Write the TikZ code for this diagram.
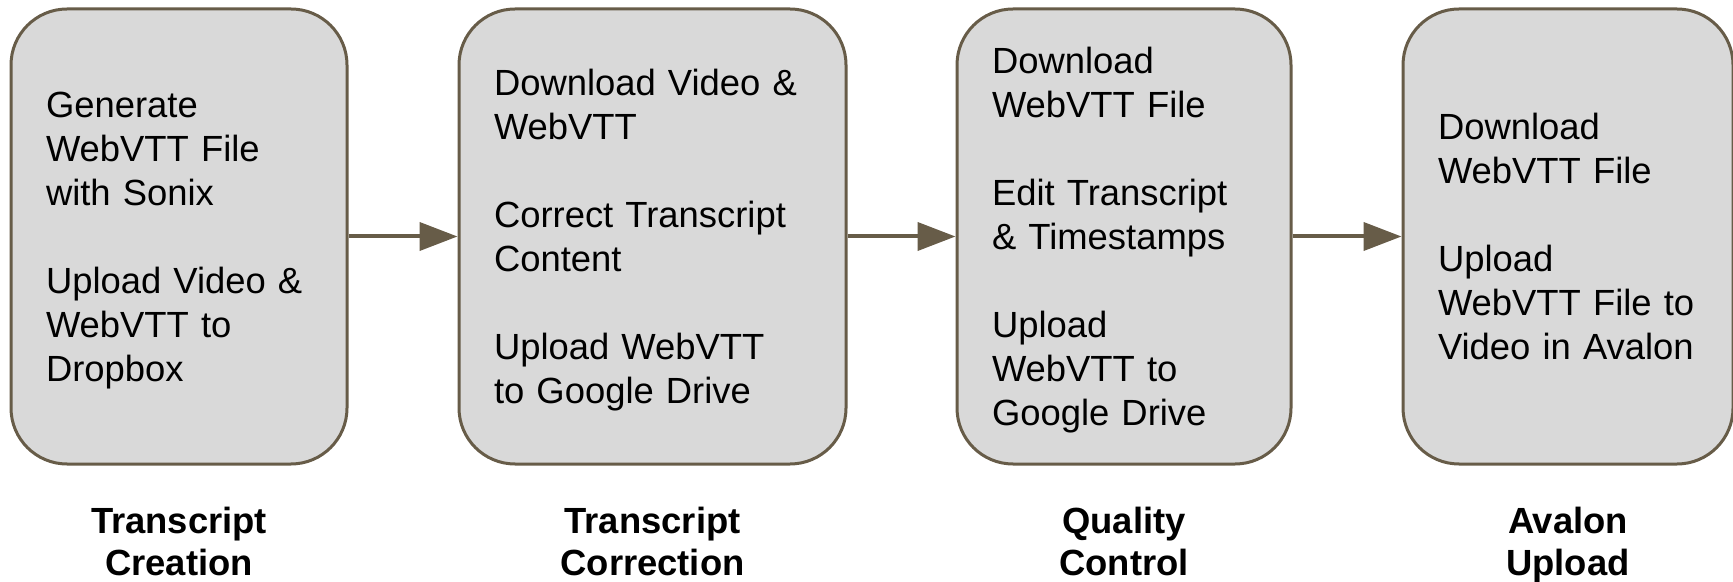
\documentclass[tikz,border=0pt]{standalone}
\usepackage{fontspec}
\setmainfont{Liberation Sans}
\usepackage{tikz}
\usetikzlibrary{arrows.meta}

\definecolor{edgebrown}{RGB}{103,92,72}
\definecolor{boxgray}{RGB}{217,217,217}

\newcommand{\topstrut}{\rule{0pt}{18pt}}
\newcommand{\botstrut}{\rule[-5pt]{0pt}{5pt}}

\tikzset{
  stage/.style={draw=edgebrown, fill=boxgray, line width=1.5pt,
    rounded corners=28pt, minimum height=227.5pt, inner xsep=17.5pt,
    align=left, font=\fontsize{18.2}{22}\selectfont},
  phase/.style={align=center, font=\fontsize{18.2}{21}\selectfont\bfseries},
  flow/.style={draw=edgebrown, line width=2pt,
    -{Triangle[length=19pt,width=14pt]}, edgebrown}
}

\begin{document}
\begin{tikzpicture}[x=1pt,y=1pt]
    \useasboundingbox (0,0) rectangle (866.5,-291);
    \node[stage, text width=133pt] (creation) at (89.5,-118.25)
      {\topstrut Generate\\WebVTT File\\with Sonix\\[22pt]Upload Video \&\\WebVTT to\\Dropbox\botstrut};
    \node[stage, text width=158.5pt] (correction) at (326.25,-118.25)
      {\topstrut Download Video \&\\WebVTT\\[22pt]Correct Transcript\\Content\\[22pt]Upload WebVTT\\to Google Drive\botstrut};
    \node[stage, text width=132pt] (quality) at (562,-118.25)
      {\topstrut Download\\WebVTT File\\[22pt]Edit Transcript\\\& Timestamps\\[22pt]Upload\\WebVTT to\\Google Drive\botstrut};
    \node[stage, text width=130pt] (avalon) at (784,-118.25)
      {\topstrut Download\\WebVTT File\\[22pt]Upload\\WebVTT File to\\Video in Avalon\botstrut};
    \draw[flow] (creation) -- (correction);
    \draw[flow] (correction) -- (quality);
    \draw[flow] (quality) -- (avalon);
    \node[phase] (creationlbl) at ([yshift=-38pt]creation.south) {\topstrut Transcript\\Creation\botstrut};
    \node[phase] (correctionlbl) at ([yshift=-38pt]correction.south) {\topstrut Transcript\\Correction\botstrut};
    \node[phase] (qualitylbl) at ([yshift=-38pt]quality.south) {\topstrut Quality\\Control\botstrut};
    \node[phase] (avalonlbl) at ([yshift=-38pt]avalon.south) {\topstrut Avalon\\Upload\botstrut};
\end{tikzpicture}
\end{document}
